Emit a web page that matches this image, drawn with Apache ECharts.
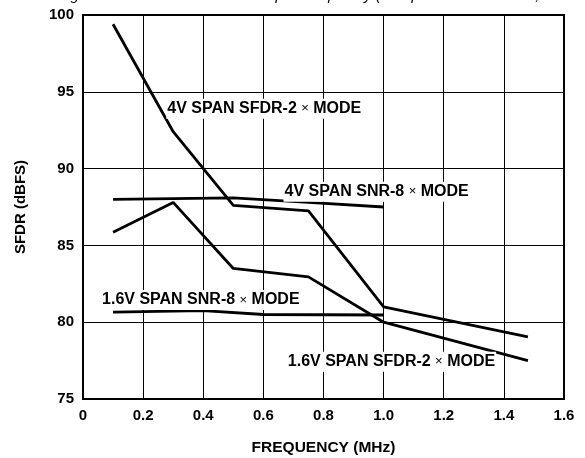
<!DOCTYPE html>
<html>
<head>
<meta charset="utf-8">
<script src="https://cdn.jsdelivr.net/npm/echarts@6/dist/echarts.min.js"></script>
<style>html,body{margin:0;padding:0;background:#fff}#c{width:585px;height:458px}</style>
</head>
<body>
<div id="c"></div>
<script>
// ---- data ----
const sfdr4vX = [0.1, 0.3, 0.5, 0.75, 1.0, 1.48];
const sfdr4vY = [99.4, 92.4, 87.6, 87.25, 81.0, 79.05];
const snr4vX = [0.1, 0.3, 0.5, 0.75, 1.0];
const snr4vY = [88.0, 88.05, 88.1, 87.8, 87.5];
const sfdr16X = [0.1, 0.3, 0.5, 0.75, 1.0, 1.48];
const sfdr16Y = [85.85, 87.8, 83.5, 82.95, 80.0, 77.5];
const snr16X = [0.1, 0.4, 0.6, 1.0];
const snr16Y = [80.65, 80.75, 80.5, 80.47];
const curveNames = ['4V SPAN SFDR-2', '4V SPAN SNR-8', '1.6V SPAN SNR-8', '1.6V SPAN SFDR-2'];
const labelX = [0.277, 0.667, 0.06, 0.678];
const labelY = [93.9, 88.5, 81.45, 77.43];
const xTicks = ['0', '0.2', '0.4', '0.6', '0.8', '1.0', '1.2', '1.4', '1.6'];
const yTicks = ['75', '80', '85', '90', '95', '100'];
const captionText = 'Figure 14. SFDR and SNR vs. Input Frequency (Sample Rate = 4MSPS, AIN = \u22120.5dBFS)';

const FONT = '"Liberation Sans", Arial, sans-serif';
const zip = (xs, ys) => xs.map((x, i) => [x, ys[i]]);

const lineSeries = [
  zip(sfdr4vX, sfdr4vY), zip(snr4vX, snr4vY), zip(sfdr16X, sfdr16Y), zip(snr16X, snr16Y)
].map(d => ({
  type: 'line', data: d, showSymbol: false, symbol: 'none', silent: true,
  lineStyle: { color: '#000', width: 2.8 }, z: 3
}));

const labelSeries = {
  type: 'scatter', symbolSize: 0, silent: true, z: 5,
  itemStyle: { opacity: 1, color: '#000' },
  data: curveNames.map((n, i) => ({ value: [labelX[i], labelY[i]], name: n })),
  label: {
    show: true, position: 'right', distance: 0, color: '#000', opacity: 1,
    formatter: p => '{t|' + p.name + ' }{m|\u00d7}{t| MODE}',
    backgroundColor: '#fff', padding: [2, 1, 2, 1],
    rich: {
      t: { fontFamily: FONT, fontWeight: 'bold', fontSize: 16, color: '#000' },
      m: { fontFamily: FONT, fontWeight: 'normal', fontSize: 13, color: '#000' }
    }
  }
};

const chart = echarts.init(document.getElementById('c'), null, { renderer: 'canvas' });
chart.setOption({
  animation: false,
  backgroundColor: '#fff',
  title: {
    text: captionText, left: 58, top: -12, padding: 0,
    textStyle: { fontFamily: FONT, fontStyle: 'italic', fontWeight: 'normal', fontSize: 15, color: '#000' }
  },
  grid: {
    left: 83, right: 21, top: 15, bottom: 59, outerBoundsMode: 'none', containLabel: false,
    show: true, borderColor: '#000', borderWidth: 2, backgroundColor: 'transparent'
  },
  xAxis: {
    type: 'value', min: 0, max: 1.6, interval: 0.2,
    name: 'FREQUENCY (MHz)', nameLocation: 'middle', nameGap: 41,
    nameTextStyle: { fontFamily: FONT, fontWeight: 'bold', fontSize: 15.5, color: '#000' },
    axisLine: { show: true, lineStyle: { color: '#000', width: 2 } },
    axisTick: { show: false },
    splitLine: { show: true, lineStyle: { color: '#000', width: 1 } },
    axisLabel: {
      margin: 9, fontFamily: FONT, fontWeight: 'bold', fontSize: 15, color: '#000',
      formatter: v => xTicks[Math.round(v / 0.2)]
    }
  },
  yAxis: {
    type: 'value', min: 75, max: 100, interval: 5,
    name: 'SFDR (dBFS)', nameLocation: 'middle', nameGap: 55, nameRotate: 90,
    nameTextStyle: { fontFamily: FONT, fontWeight: 'bold', fontSize: 15, color: '#000' },
    axisLine: { show: true, lineStyle: { color: '#000', width: 2 } },
    axisTick: { show: false },
    splitLine: { show: true, lineStyle: { color: '#000', width: 1 } },
    axisLabel: {
      margin: 9, fontFamily: FONT, fontWeight: 'bold', fontSize: 15, color: '#000',
      formatter: v => yTicks[Math.round((v - 75) / 5)]
    }
  },
  series: lineSeries.concat([labelSeries])
});
</script>
</body>
</html>
